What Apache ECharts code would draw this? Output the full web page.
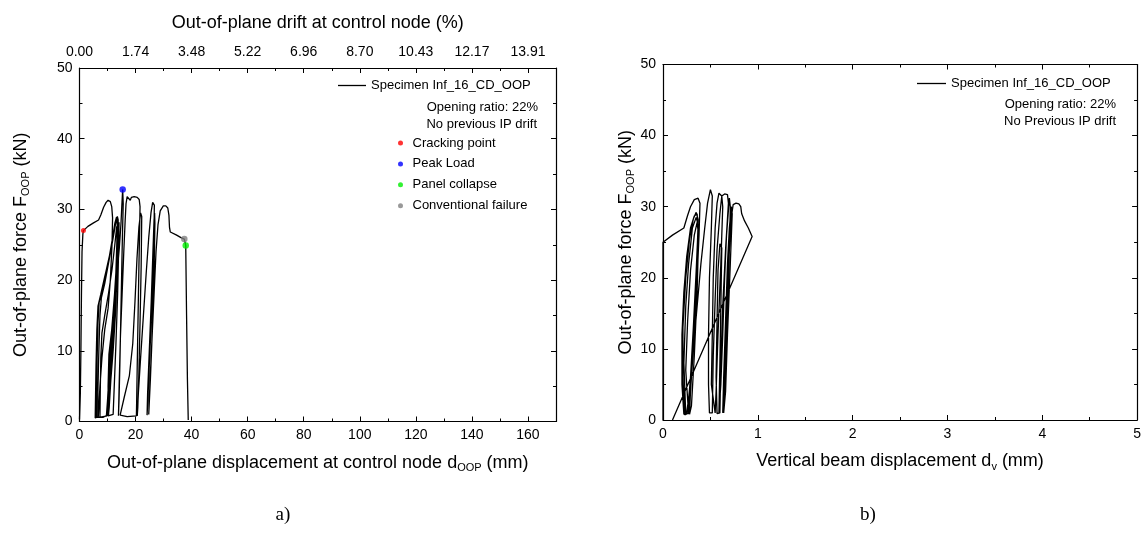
<!DOCTYPE html>
<html>
<head>
<meta charset="utf-8">
<script src="https://cdn.jsdelivr.net/npm/echarts@6/dist/echarts.min.js"></script>
<style>html,body{margin:0;padding:0;background:#fff}#c{width:1144px;height:535px}</style>
</head>
<body>
<div id="c"></div>
<script>
// ---- data ----
const seriesName = 'Specimen Inf_16_CD_OOP';
// a) out-of-plane displacement (mm) and force (kN)
const dispA = [0,0.3,0.5,0.7,0.9,1.2,1.4,3,5,6.8,7.6,8.6,9.5,10.2,11.0,11.5,11.8,
 11.6,11.0,10.2,9.0,8.0,7.3,6.9,6.7,6.0,5.6,
 5.7,5.9,6.2,6.6,7.6,9.0,10.5,11.8,12.6,13.2,13.5,
 13.3,12.9,12.3,11.4,10.6,10.0,9.6,8.0,6.0,
 6.1,6.3,6.6,7.0,8.2,9.6,11.0,12.2,13.0,13.5,13.8,
 13.6,13.2,12.5,11.6,10.8,10.2,9.8,7.5,6.5,
 6.6,6.9,7.3,7.8,9.0,10.4,11.8,12.8,13.4,13.7,
 13.5,12.9,12.0,11.0,10.3,9.9,
 8.5,7.3,
 7.4,7.6,8.0,9.0,10.3,11.6,12.6,13.3,13.6,
 13.4,12.8,12.0,11.2,10.6,10.3,
 10.2,10.5,11.5,12.5,13.3,13.8,14.1,14.0,13.6,13.0,12.4,12.0,10.2,
 10.3,10.6,11.3,12.2,13.2,14.2,14.8,15.1,15.4,
 15.6,15.3,15.0,14.7,14.4,14.1,13.9,
 14.2,14.6,15.2,15.8,16.3,16.6,17.0,17.6,18.1,18.5,19.5,20.6,21.3,21.6,21.5,21.2,20.9,20.6,20.4,20.3,
 17.0,14.5,
 16.0,17.8,19.0,19.8,20.5,21.2,21.8,22.2,22.0,21.6,21.2,20.8,20.6,
 21.0,21.8,22.8,23.8,24.7,25.5,26.1,26.4,26.7,26.6,26.2,25.6,24.9,24.4,24.1,
 24.3,24.9,25.6,26.2,26.6,26.8,26.9,26.6,26.0,25.3,24.7,
 25.2,25.9,26.6,27.3,28.0,28.8,29.9,30.8,31.5,31.9,32.1,32.4,34.5,36.2,37.4,37.9,38.2,38.5,38.8];
const forceA = [0.3,4,10,18,24,26.5,27.0,27.6,28.1,28.5,29.2,30.3,31.0,31.3,31.1,30.4,28.8,
 25,20,16,13,9,5,2,0.7,0.6,0.5,
 3,8,13,16.3,18,20.5,23,26,28,28.9,28.4,
 25,20,15,11,7,3,0.8,0.6,0.6,
 4,9,14,16.8,18.8,21.5,24,26.8,28.5,29.0,28.5,
 24,19,14,10,6,2.5,0.8,0.6,0.7,
 5,10,15,17.5,19.5,22.5,25.5,27.8,28.7,28.3,
 22,16,11,7,3,0.9,
 0.6,0.7,
 4,9,12.5,15,18,21.5,25,27.6,27.2,
 21,15,10,6,2,0.8,
 5,9.5,13,18,23,26.5,28.2,25,18,11,5,1,0.8,
 4,8,12,16,20,24.5,28,30.5,32.8,
 30.8,26,20,14,8,3,0.8,
 6,12,18,24,28.5,30.8,31.8,31.9,31.3,31.7,31.8,31.7,31.4,30.4,28,22,15,8,3,0.8,
 0.7,0.9,
 3.5,6.5,11,17,23,27.5,29.5,29.0,22,14,7,2,0.8,
 4,9,15,21,26,29.5,31.0,31.2,30.6,27,21,14,8,3,0.9,
 4,10,17,24,28.5,29.5,28,21,13,6,1,
 6,12,18,24,27.8,29.8,30.5,30.5,30.2,29.2,27.5,26.8,26.4,26.0,25.8,24.9,15,6,0.2];
// b) vertical beam displacement (mm) and force (kN)
const dispB = [0,0,0,0,0.1,0.22,0.26,0.29,0.33,0.37,0.39,
 0.38,0.36,0.33,0.30,0.27,0.25,
 0.22,0.20,0.20,0.22,0.25,0.29,0.33,0.36,0.37,0.35,0.32,0.29,0.26,
 0.23,0.21,0.21,0.24,0.28,0.32,0.35,0.37,0.36,0.33,0.30,0.27,
 0.24,0.22,0.24,0.27,0.31,0.35,0.37,0.35,0.31,0.28,0.27,
 0.25,0.24,0.26,0.29,0.33,0.36,0.375,0.36,0.33,0.30,0.28,
 0.29,0.32,0.36,0.40,0.44,0.47,0.50,0.52,0.51,0.49,0.48,0.48,0.49,
 0.52,0.53,0.55,0.57,0.60,0.62,0.63,0.61,0.58,0.56,0.55,
 0.51,0.52,0.53,0.55,0.57,0.59,0.62,0.65,0.68,0.69,0.66,0.63,0.61,0.60,
 0.57,0.56,0.57,0.58,0.60,0.62,0.61,0.60,0.59,
 0.61,0.63,0.65,0.67,0.69,0.70,0.71,0.70,0.67,0.65,0.63,
 0.64,0.66,0.68,0.70,0.72,0.73,0.71,0.68,0.66,0.64,
 0.66,0.68,0.70,0.72,0.74,0.77,0.80,0.82,0.83,0.86,0.90,0.94,0.10];
const forceB = [0,10,20,25.0,26.0,27.0,28.8,30.0,31.0,31.2,30.5,
 26,20,13,7,3,1,
 0.8,5,12,18,23,27,28.7,29.0,27,21,13,6,1.2,
 0.7,6,13,20,25.5,28.3,29.2,28.2,22,14,7,1,
 0.8,8,16,22,27,28.5,27.5,20,10,3,0.8,
 1,7,14,21,26,27.8,26,18,9,2,0.8,
 4,10,16,22,27,30.5,32.4,31.5,27,20,12,5,1,
 1,9,17,24,29,31.5,30,22,12,4,1,
 5,12,20,27,30.5,31.9,31.5,31.8,31.7,30.5,24,16,8,1,
 0.9,6,14,21,24.8,24.2,16,8,1,
 5,12,20,26,29.5,31.2,30,24,16,8,1,
 6,14,22,27,30,29,22,12,4,1,
 8,16,24,28.5,30.3,30.5,30.4,30.0,29.0,28.0,27.0,25.8,0];
// characteristic points (panel a)
const crackPt = [1.4, 27.0];
const peakPt = [15.4, 32.8];
const collapsePt = [37.9, 24.9];
const failurePt = [37.4, 25.8];
// tick labels
const dispTicks = [0,20,40,60,80,100,120,140,160];
const driftTicks = ['0.00','1.74','3.48','5.22','6.96','8.70','10.43','12.17','13.91'];

const FF = 'Liberation Sans, Arial, sans-serif';
const pairs = (xs, ys) => xs.map((x, i) => [x, ys[i]]);

function ax(grid, pos, min, max, interval, labels, extra) {
  return Object.assign({
    type: 'value', gridIndex: grid, position: pos, min, max, interval,
    axisLine: {show: true, onZero: false, lineStyle: {color: '#000', width: 1.2}},
    axisTick: {show: true, inside: true, length: 5, lineStyle: {color: '#000', width: 1}},
    minorTick: {show: true, splitNumber: 2, length: 3, lineStyle: {color: '#000', width: 1}},
    splitLine: {show: false},
    axisLabel: {show: labels, color: '#000', fontSize: 14, fontFamily: FF, margin: 7}
  }, extra || {});
}
const nameStyle = () => ({
  color: '#000', fontSize: 18, fontFamily: FF,
  rich: {
    n: {fontSize: 18, fontFamily: FF, color: '#000'},
    s: {fontSize: 11, fontFamily: FF, color: '#000', padding: [10, 0, 0, 0]}
  }
});

const chart = echarts.init(document.getElementById('c'), null, {renderer: 'canvas'});
chart.setOption({
  backgroundColor: '#fff',
  animation: false,
  grid: [
    {left: 79.5, top: 68, width: 476.5, height: 353.5},
    {left: 663, top: 64.5, width: 478, height: 355.5}
  ],
  xAxis: [
    ax(0, 'bottom', 0, 170, 20, true, {
      axisLabel: {show: true, color: '#000', fontSize: 14, fontFamily: FF, margin: 7,
        formatter: v => dispTicks.indexOf(v) >= 0 ? String(v) : ''},
      name: '{n|Out-of-plane displacement at control node d}{s|OOP}{n| (mm)}',
      nameLocation: 'middle', nameGap: 31, nameTextStyle: nameStyle()
    }),
    ax(0, 'top', 0, 170, 20, true, {
      axisLabel: {show: true, color: '#000', fontSize: 14, fontFamily: FF, margin: 9,
        formatter: v => { const i = dispTicks.indexOf(v); return i >= 0 ? driftTicks[i] : ''; }},
      name: 'Out-of-plane drift at control node (%)',
      nameLocation: 'middle', nameGap: 36, nameTextStyle: {color: '#000', fontSize: 18, fontFamily: FF}
    }),
    ax(1, 'bottom', 0, 5, 1, true, {
      name: '{n|Vertical beam displacement d}{s|v}{n| (mm)}',
      nameLocation: 'middle', nameGap: 31, nameTextStyle: nameStyle()
    }),
    ax(1, 'top', 0, 5, 1, false)
  ],
  yAxis: [
    ax(0, 'left', 0, 50, 10, true, {
      name: '{n|Out-of-plane force F}{s|OOP}{n| (kN)}',
      nameLocation: 'middle', nameGap: 48, nameTextStyle: nameStyle()
    }),
    ax(0, 'right', 0, 50, 10, false),
    ax(1, 'left', 0, 50, 10, true, {
      name: '{n|Out-of-plane force F}{s|OOP}{n| (kN)}',
      nameLocation: 'middle', nameGap: 19, nameTextStyle: nameStyle()
    }),
    ax(1, 'right', 0, 50, 10, false)
  ],
  legend: [
    {data: [{name: seriesName, icon: 'rect'}], left: 338, top: 79, padding: 0,
     itemWidth: 28, itemHeight: 1.3, selectedMode: false,
     textStyle: {color: '#000', fontSize: 13, fontFamily: FF}},
    {data: [{name: seriesName, icon: 'rect'}], left: 917, top: 77, padding: 0,
     itemWidth: 29, itemHeight: 1.3, selectedMode: false,
     textStyle: {color: '#000', fontSize: 13, fontFamily: FF}},
    {data: ['Cracking point', 'Peak Load', 'Panel collapse', 'Conventional failure'],
     orient: 'vertical', left: 398, top: 136.5, padding: 0, itemGap: 7.9,
     itemWidth: 14, itemHeight: 5, icon: 'circle', selectedMode: false,
     textStyle: {color: '#000', fontSize: 13, fontFamily: FF}}
  ],
  graphic: [
    {type: 'text', style: {text: 'Opening ratio: 22%', x: 538, y: 107, textAlign: 'right', textVerticalAlign: 'middle', font: '13px ' + FF, fill: '#000'}},
    {type: 'text', style: {text: 'No previous IP drift', x: 537, y: 124, textAlign: 'right', textVerticalAlign: 'middle', font: '13px ' + FF, fill: '#000'}},
    {type: 'text', style: {text: 'Opening ratio: 22%', x: 1116, y: 104, textAlign: 'right', textVerticalAlign: 'middle', font: '13px ' + FF, fill: '#000'}},
    {type: 'text', style: {text: 'No Previous IP drift', x: 1116, y: 121, textAlign: 'right', textVerticalAlign: 'middle', font: '13px ' + FF, fill: '#000'}},
    {type: 'text', style: {text: 'a)', x: 283, y: 515, textAlign: 'center', textVerticalAlign: 'middle', font: '19px Liberation Serif, Times New Roman, serif', fill: '#000'}},
    {type: 'text', style: {text: 'b)', x: 868, y: 515, textAlign: 'center', textVerticalAlign: 'middle', font: '19px Liberation Serif, Times New Roman, serif', fill: '#000'}}
  ],
  series: [
    {name: seriesName, type: 'line', xAxisIndex: 0, yAxisIndex: 0, data: pairs(dispA, forceA),
     showSymbol: false, symbol: 'none', lineStyle: {color: '#000', width: 1.3}, itemStyle: {color: '#000'}, z: 2},
    {name: seriesName, type: 'line', xAxisIndex: 2, yAxisIndex: 2, data: pairs(dispB, forceB),
     showSymbol: false, symbol: 'none', lineStyle: {color: '#000', width: 1.3}, itemStyle: {color: '#000'}, z: 2},
    {name: 'Cracking point', type: 'scatter', xAxisIndex: 0, yAxisIndex: 0, data: [crackPt], symbolSize: 5, itemStyle: {color: '#ff0000'}, z: 5},
    {name: 'Peak Load', type: 'scatter', xAxisIndex: 0, yAxisIndex: 0, data: [peakPt], symbolSize: 6.5, itemStyle: {color: '#0000ff'}, z: 5},
    {name: 'Panel collapse', type: 'scatter', xAxisIndex: 0, yAxisIndex: 0, data: [collapsePt], symbolSize: 6.5, itemStyle: {color: '#00ee00'}, z: 6},
    {name: 'Conventional failure', type: 'scatter', xAxisIndex: 0, yAxisIndex: 0, data: [failurePt], symbolSize: 6.5, itemStyle: {color: '#808080'}, z: 5}
  ]
});
</script>
</body>
</html>
